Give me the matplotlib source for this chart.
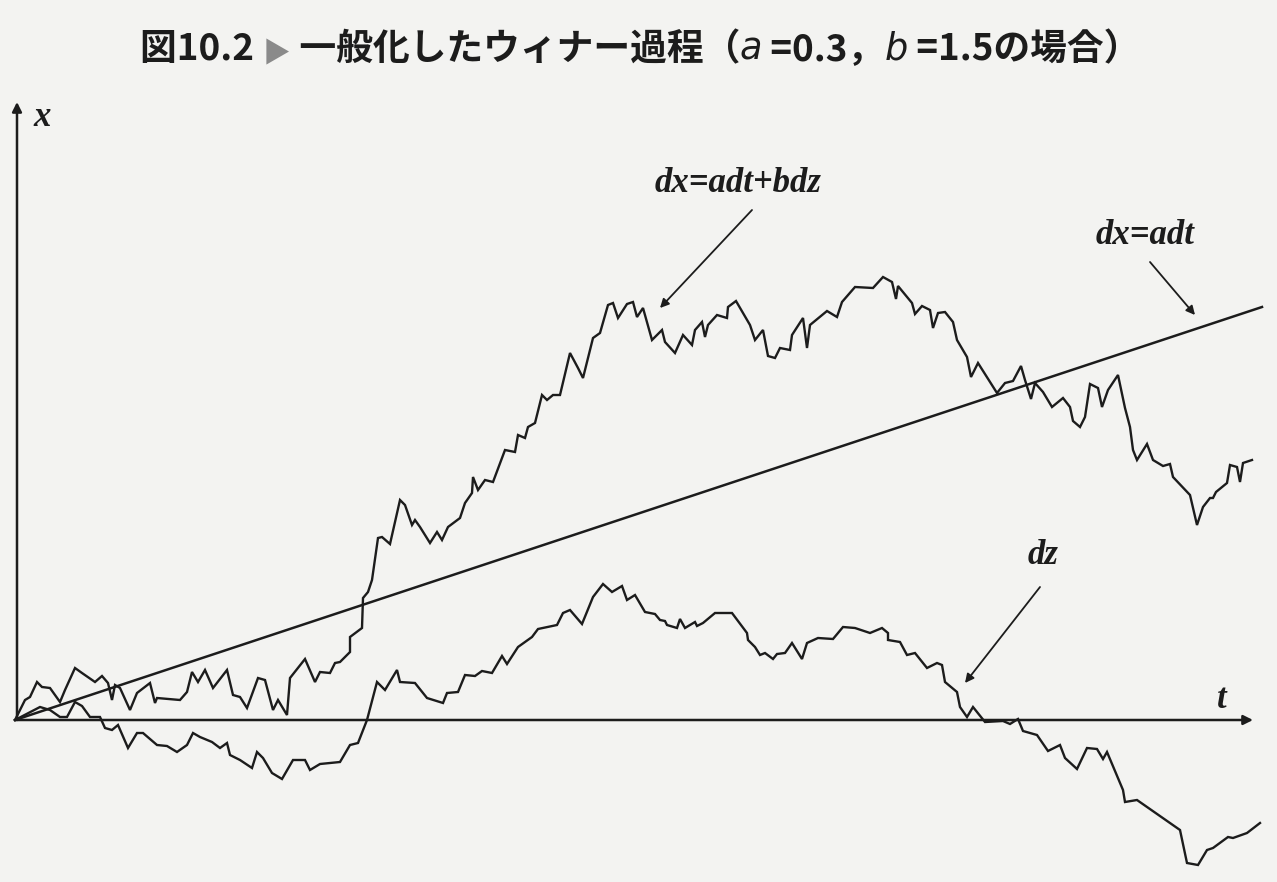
import matplotlib as mpl
import matplotlib.pyplot as plt

mpl.rcParams["font.family"] = ["Noto Sans CJK JP", "DejaVu Sans"]

# dz : standard Wiener process
dz_t = [0, 2.5, 3.5, 4.5, 5.2, 6.0, 6.7, 7.5, 8.5, 9.0, 9.7, 10.3, 11.3, 12.2, 12.8, 14.2,
        15.2, 16.2, 17.2, 17.8, 18.5, 19.7, 20.5, 21.2, 21.5, 22.5, 23.7, 24.2, 24.8, 25.7,
        26.7, 27.8, 29.0, 29.5, 30.5, 32.5, 33.5, 34.3, 35.2, 36.2, 37.0, 38.2, 38.5, 40.0,
        41.2, 42.8, 43.2, 44.3, 45.0, 46.0, 46.7, 47.7, 48.7, 49.2, 50.3, 51.7, 52.3, 54.2,
        54.8, 55.5, 56.7, 57.8, 58.8, 59.7, 60.7, 61.2, 62.0, 63.0, 64.0, 64.5, 65.0, 65.2,
        66.2, 66.5, 67.0, 68.0, 68.2, 68.8, 70.0, 71.7, 73.2, 73.3, 74.0, 74.5, 75.0, 75.8,
        76.2, 77.0, 77.7, 78.7, 79.2, 80.3, 81.8, 82.8, 84.0, 85.5, 86.7, 87.3, 87.3, 88.5,
        89.2, 90.0, 91.2, 92.2, 92.7, 93.0, 94.2, 94.5, 95.2, 95.8, 97.0, 98.8, 99.5, 100.3,
        100.8, 102.2, 103.3, 104.5, 105.0, 106.2, 107.2, 108.2, 108.8, 109.2, 110.8, 111.0,
        112.2, 116.5, 117.2, 118.3, 119.2, 119.8, 121.3, 121.8, 123.2, 124.5]
dz_x = [0, 1.3, 1.0, 0.3, 0.3, 1.8, 1.4, 0.3, 0.3, -0.8, -1.0, -0.5, -2.8, -1.3, -1.3, -2.5,
        -2.6, -3.2, -2.5, -1.3, -1.7, -2.2, -2.8, -2.3, -3.5, -4.0, -4.8, -3.2, -3.8, -5.3,
        -5.9, -4.0, -4.0, -5.0, -4.4, -4.2, -2.5, -2.3, 0.0, 3.8, 3.0, 5.0, 3.8, 3.7,
        2.2, 1.7, 2.7, 2.8, 4.5, 4.4, 4.9, 4.7, 6.4, 5.6, 7.3, 8.3, 9.1, 9.5,
        10.7, 11.0, 9.6, 12.3, 13.6, 12.8, 13.4, 12.0, 12.5, 10.8, 10.6, 10.0, 9.9, 9.5,
        9.2, 10.1, 9.2, 9.8, 9.4, 9.7, 10.7, 10.7, 8.7, 8.0, 7.3, 6.5, 6.7, 6.1,
        6.6, 6.7, 7.7, 6.1, 7.7, 8.2, 8.1, 9.3, 9.2, 8.7, 9.2, 8.7, 8.0, 7.8,
        6.5, 6.7, 5.2, 5.7, 5.5, 3.8, 2.8, 1.3, 0.3, 1.3, -0.2, -0.1, -0.4, 0.1,
        -1.1, -1.5, -3.1, -2.5, -3.8, -4.9, -2.8, -2.9, -3.9, -3.2, -7.0, -8.2,
        -8.0, -11.0, -14.3, -14.5, -13.0, -12.8, -11.7, -11.8, -11.3, -10.3]

# dx = a dt + b dz  (a = 0.3, b = 1.5)
dx_t = [0, 1.0, 1.5, 2.2, 2.7, 3.5, 4.5, 5.0, 6.0, 6.7, 8.0, 8.7, 9.3, 9.7, 10.0, 10.5,
        11.5, 12.2, 13.5, 14.0, 14.2, 16.5, 17.2, 17.7, 18.3, 19.0, 19.8, 21.2, 21.8, 22.5,
        23.2, 24.3, 25.0, 25.8, 26.3, 27.2, 27.5, 29.0, 30.0, 30.5, 31.5, 32.0, 32.5, 33.5,
        33.5, 34.7, 34.8, 35.3, 35.7, 36.3, 36.7, 37.5, 38.5, 39.0, 39.7, 40.0, 40.5, 41.5,
        42.2, 42.7, 43.3, 44.5, 45.0, 45.7, 45.8, 46.3, 47.0, 47.8, 49.0, 50.0, 50.3, 51.0,
        51.3, 52.0, 52.7, 53.2, 53.8, 54.5, 55.5, 56.3, 56.8, 57.8, 58.5, 59.3, 59.8, 60.3,
        61.2, 61.8, 62.2, 62.8, 63.7, 64.7, 65.0, 66.0, 66.8, 67.7, 68.0, 68.7, 69.0, 69.3,
        70.2, 71.2, 71.3, 72.1, 73.5, 74.0, 74.8, 75.3, 76.0, 76.5, 77.5, 77.7, 78.8, 79.2,
        79.5, 81.2, 82.2, 82.7, 84.0, 85.8, 86.8, 87.7, 88.1, 88.3, 89.7, 90.0, 90.7, 91.5,
        91.8, 92.3, 93.0, 93.8, 94.2, 95.2, 95.6, 96.3, 97.5, 98.2, 99.0, 99.8, 100.6, 101.0,
        101.6, 102.0, 102.8, 103.7, 104.8, 105.5, 105.8, 106.5, 107.0, 107.5, 108.3, 108.7,
        109.3, 110.3, 111.0, 111.5, 111.8, 112.2, 113.2, 113.8, 114.8, 115.5, 115.8, 117.5,
        118.2, 118.8, 119.5, 119.8, 120.1, 121.2, 121.5, 122.2, 122.5, 122.8, 123.7]
dx_x = [0, 2.0, 2.3, 3.8, 3.3, 3.2, 1.8, 3.0, 5.2, 4.7, 3.8, 4.4, 3.7, 2.0, 3.5, 3.2,
        1.0, 2.7, 3.7, 1.7, 2.2, 2.0, 2.8, 4.8, 3.8, 5.0, 3.2, 5.0, 2.5, 2.3,
        1.2, 4.2, 4.0, 1.0, 2.0, 0.5, 4.2, 6.1, 3.8, 4.8, 4.7, 5.7, 5.8, 6.8,
        8.3, 9.2, 12.2, 12.8, 14.0, 18.2, 18.3, 17.6, 22.0, 21.5, 19.5, 20.0, 19.3, 17.7,
        18.8, 18.0, 19.3, 20.2, 21.7, 22.7, 24.3, 23.0, 24.0, 23.8, 27.0, 26.8, 28.5, 28.2,
        29.3, 29.7, 32.5, 32.0, 32.5, 32.5, 36.7, 35.2, 34.2, 38.2, 38.7, 41.5, 41.7, 40.2,
        41.6, 41.8, 40.3, 41.2, 38.0, 39.0, 37.8, 36.7, 38.5, 37.5, 39.0, 39.8, 38.3, 39.5,
        40.5, 40.2, 41.3, 41.9, 39.5, 38.0, 39.0, 36.4, 36.2, 37.2, 37.0, 38.5, 40.2, 37.2,
        39.5, 40.9, 40.3, 41.8, 43.3, 43.2, 44.3, 43.8, 42.1, 43.4, 41.7, 40.6, 41.4, 41.0,
        39.2, 40.7, 40.8, 39.8, 38.0, 36.3, 34.3, 35.7, 33.8, 32.7, 33.7, 33.9, 35.4, 34.0,
        32.1, 33.7, 32.8, 31.3, 32.2, 31.3, 29.9, 29.3, 30.3, 33.6, 33.2, 31.3,
        33.0, 34.5, 31.2, 29.3, 27.0, 26.0, 27.6, 26.0, 25.4, 25.6, 24.3, 22.5,
        19.5, 21.3, 22.2, 22.2, 22.8, 23.7, 25.5, 25.3, 23.8, 25.7, 26.0]

# dx = a dt  (drift only)
drift_t = [0, 124.7]
drift_x = [0, 41.3]

ink = "#1c1c1c"
paper = "#f3f3f1"

fig = plt.figure(figsize=(12.77, 8.82), dpi=100, facecolor=paper)
ax = fig.add_axes([0, 0, 1, 1])
ax.set_facecolor(paper)
ax.set_xlim(-1.5, 126.2)
ax.set_ylim(-16.2, 72.0)
ax.axis("off")

# axes with arrow heads
ax.annotate("", xy=(123.8, 0), xytext=(0, 0),
            arrowprops=dict(arrowstyle="-|>", color=ink, lw=1.8, mutation_scale=14,
                            shrinkA=0, shrinkB=0))
ax.annotate("", xy=(0.2, 61.8), xytext=(0.2, 0),
            arrowprops=dict(arrowstyle="-|>", color=ink, lw=1.8, mutation_scale=14,
                            shrinkA=0, shrinkB=0))

ax.plot(dz_t, dz_x, color=ink, lw=1.7, solid_joinstyle="miter")
ax.plot(dx_t, dx_x, color=ink, lw=1.7, solid_joinstyle="miter")
ax.plot(drift_t, drift_x, color=ink, lw=1.8)

lab = dict(family="Liberation Serif", style="italic", weight="bold", color=ink,
           fontsize=25, ha="center", va="center")
ax.text(2.7, 60.3, "x", **lab)
ax.text(120.7, 2.0, "t", **lab)
ax.text(72.3, 53.6, "dx=adt+bdz", **lab)
ax.text(113.0, 48.5, "dx=adt", **lab)
ax.text(102.8, 16.5, "dz", **lab)

arr = dict(arrowstyle="-|>", color=ink, lw=1.3, mutation_scale=13, shrinkA=0, shrinkB=0)
ax.annotate("", xy=(64.5, 41.2), xytext=(73.7, 51.0), arrowprops=arr)
ax.annotate("", xy=(118.0, 40.5), xytext=(113.5, 45.8), arrowprops=arr)
ax.annotate("", xy=(95.0, 3.7), xytext=(102.5, 13.3), arrowprops=arr)

# title, built from pieces so that a and b can be italic and the marker grey
tfont = dict(fontsize=26.5, weight="bold", color=ink)
parts = [("図10.2 ", {}),
         ("▶", dict(color="#8a8a8a", fontsize=20)),
         (" 一般化したウィナー過程（", {}),
         ("a", dict(family="DejaVu Sans", style="italic", weight="normal")),
         (" =0.3，", {}),
         ("b", dict(family="DejaVu Sans", style="italic", weight="normal")),
         (" =1.5の場合）", {})]
prev = None
for s, extra in parts:
    kw = dict(tfont)
    kw.update(extra)
    if prev is None:
        prev = fig.text(0.110, 0.932, s, ha="left", va="baseline", **kw)
    else:
        prev = ax.annotate(s, xy=(1, 0), xycoords=prev, ha="left", va="bottom", **kw)

fig.savefig("out.png", dpi=100, facecolor=paper)
